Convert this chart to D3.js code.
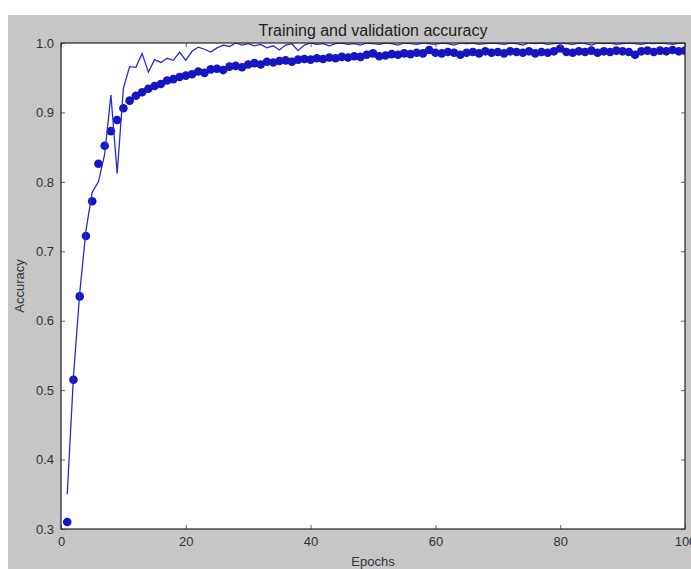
<html>
<head>
<script src="https://d3js.org/d3.v7.min.js" charset="utf-8"></script>
<style>
    body { margin: 0; background: white; }
    text { font-family: "Liberation Sans", Arial, sans-serif; }
</style>
</head>
<body>
<script>
// chart values
var epochs = d3.range(1, 101);

var trainAcc = [
    0.310, 0.515, 0.635, 0.722, 0.772, 0.826, 0.852, 0.873, 0.889, 0.906,
    0.917, 0.924, 0.929, 0.934, 0.938, 0.941, 0.946, 0.948, 0.951, 0.953,
    0.955, 0.959, 0.957, 0.962, 0.963, 0.961, 0.966, 0.967, 0.965, 0.969,
    0.971, 0.969, 0.973, 0.972, 0.974, 0.975, 0.973, 0.976, 0.977, 0.976,
    0.978, 0.977, 0.979, 0.978, 0.980, 0.979, 0.981, 0.980, 0.983, 0.985,
    0.981, 0.982, 0.984, 0.983, 0.985, 0.984, 0.986, 0.985, 0.990, 0.986,
    0.985, 0.987, 0.986, 0.983, 0.986, 0.987, 0.985, 0.988, 0.986, 0.987,
    0.985, 0.988, 0.987, 0.986, 0.988, 0.985, 0.987, 0.986, 0.988, 0.992,
    0.987, 0.986, 0.988, 0.987, 0.989, 0.986, 0.988, 0.987, 0.989, 0.988,
    0.987, 0.983, 0.988, 0.989, 0.987, 0.989, 0.988, 0.990, 0.988, 0.989
];

var valAcc = [
    0.350, 0.520, 0.640, 0.730, 0.785, 0.800, 0.840, 0.925, 0.812, 0.935,
    0.966, 0.965, 0.985, 0.958, 0.976, 0.972, 0.978, 0.975, 0.987, 0.975,
    0.988, 0.994, 0.991, 0.987, 0.993, 0.997, 0.995, 1.000, 0.997, 0.999,
    0.996, 0.998, 0.993, 0.996, 0.990, 0.997, 0.999, 0.989, 0.997, 1.000,
    0.998, 0.999, 0.996, 0.999, 1.000, 0.998, 0.999, 0.997, 1.000, 0.999,
    0.998, 1.000, 0.999, 0.997, 1.000, 0.999, 0.998, 1.000, 0.999, 0.998,
    1.000, 0.999, 0.997, 1.000, 0.999, 1.000, 0.998, 0.999, 1.000, 0.999,
    0.998, 1.000, 0.999, 0.997, 1.000, 0.999, 1.000, 0.998, 0.999, 1.000,
    0.999, 0.998, 1.000, 0.999, 0.997, 1.000, 0.999, 1.000, 0.998, 0.999,
    1.000, 0.999, 0.998, 1.000, 0.999, 1.000, 0.999, 0.998, 1.000, 0.999
];

var xTicks = [0, 20, 40, 60, 80, 100];
var yTicks = [0.3, 0.4, 0.5, 0.6, 0.7, 0.8, 0.9, 1.0];

var width = 691;
var height = 569;
// plot box
var pLeft = 61, pTop = 43, pRight = 685, pBottom = 529;
var blue = "#1515c2";

var svg = d3.select("body")
    .append("svg")
    .attr("width", width)
    .attr("height", height);

// gray figure background
svg.append("rect")
    .attr("x", 8).attr("y", 15)
    .attr("width", width - 8).attr("height", height - 15)
    .attr("fill", "#c6c6c6");

svg.append("rect")
    .attr("x", pLeft).attr("y", pTop)
    .attr("width", pRight - pLeft).attr("height", pBottom - pTop)
    .attr("fill", "white");

var x = d3.scaleLinear().domain([0, 100]).range([pLeft, pRight]);
var y = d3.scaleLinear().domain([0.3, 1.0]).range([pBottom, pTop]);

svg.append("clipPath").attr("id", "plotclip")
    .append("rect")
    .attr("x", pLeft).attr("y", pTop)
    .attr("width", pRight - pLeft).attr("height", pBottom - pTop);

var plot = svg.append("g").attr("clip-path", "url(#plotclip)");

// training: markers only
plot.selectAll("circle")
    .data(trainAcc)
    .enter()
    .append("circle")
    .attr("cx", function(d, i) { return x(epochs[i]); })
    .attr("cy", function(d) { return y(d); })
    .attr("r", 4.3)
    .attr("fill", blue);

// validation: thin line
var line = d3.line()
    .x(function(d, i) { return x(epochs[i]); })
    .y(function(d) { return y(d); });

plot.append("path")
    .datum(valAcc)
    .attr("d", line)
    .attr("fill", "none")
    .attr("stroke", "#2a2ad0")
    .attr("stroke-width", 1.3);

// inward ticks on all sides
var xAxis = svg.append("g").attr("transform", "translate(0," + pBottom + ")")
    .call(d3.axisBottom(x).tickValues(xTicks).tickSizeInner(-4).tickSizeOuter(0).tickPadding(8).tickFormat(d3.format("d")));
var xAxisTop = svg.append("g").attr("transform", "translate(0," + pTop + ")")
    .call(d3.axisTop(x).tickValues(xTicks).tickSizeInner(-4).tickSizeOuter(0).tickFormat(""));
var yAxis = svg.append("g").attr("transform", "translate(" + pLeft + ",0)")
    .call(d3.axisLeft(y).tickValues(yTicks).tickSizeInner(-4).tickSizeOuter(0).tickPadding(7).tickFormat(d3.format(".1f")));
var yAxisRight = svg.append("g").attr("transform", "translate(" + pRight + ",0)")
    .call(d3.axisRight(y).tickValues(yTicks).tickSizeInner(-4).tickSizeOuter(0).tickFormat(""));

[xAxis, xAxisTop, yAxis, yAxisRight].forEach(function(a) {
    a.select(".domain").remove();
    a.selectAll("line").attr("stroke", "#666");
    a.selectAll("text").attr("fill", "#333").style("font-size", "13px");
});

// frame
svg.append("rect")
    .attr("x", pLeft).attr("y", pTop)
    .attr("width", pRight - pLeft).attr("height", pBottom - pTop)
    .attr("fill", "none")
    .attr("stroke", "#222")
    .attr("stroke-width", 1.2);

svg.append("text")
    .attr("x", (pLeft + pRight) / 2).attr("y", 36)
    .attr("text-anchor", "middle")
    .attr("fill", "#222")
    .style("font-size", "16px")
    .text("Training and validation accuracy");

svg.append("text")
    .attr("x", (pLeft + pRight) / 2).attr("y", 566)
    .attr("text-anchor", "middle")
    .attr("fill", "#333")
    .style("font-size", "13px")
    .text("Epochs");

svg.append("text")
    .attr("transform", "translate(24," + ((pTop + pBottom) / 2) + ") rotate(-90)")
    .attr("text-anchor", "middle")
    .attr("fill", "#333")
    .style("font-size", "13px")
    .text("Accuracy");
</script>
</body>
</html>
